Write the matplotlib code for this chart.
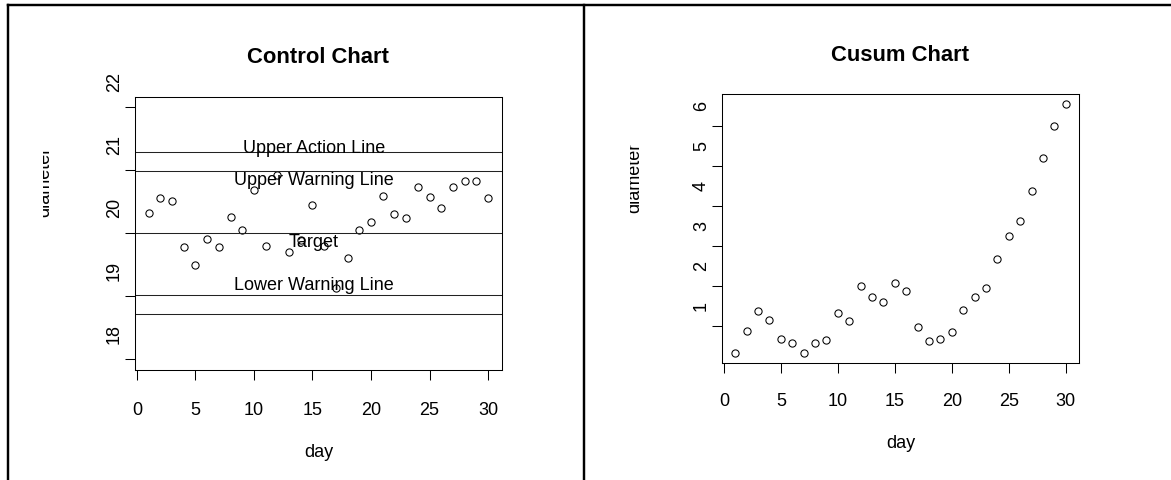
import matplotlib.pyplot as plt
from matplotlib.lines import Line2D
from matplotlib.patches import Rectangle
from matplotlib.transforms import ScaledTranslation, Bbox, TransformedBbox

plt.rcParams['font.family'] = ['Liberation Sans', 'DejaVu Sans']

# data
days = list(range(1, 31))
diameter = [20.31, 20.55, 20.51, 19.78, 19.50, 19.90, 19.78, 20.25, 20.05, 20.68,
            19.80, 20.91, 19.70, 19.89, 20.44, 19.80, 19.13, 19.61, 20.05, 20.18,
            20.59, 20.30, 20.23, 20.73, 20.57, 20.40, 20.73, 20.82, 20.82, 20.55]
cusum = [0.32, 0.86, 1.37, 1.14, 0.66, 0.55, 0.32, 0.57, 0.63, 1.32,
         1.11, 2.00, 1.71, 1.60, 2.06, 1.86, 0.97, 0.60, 0.66, 0.83,
         1.40, 1.71, 1.95, 2.67, 3.24, 3.63, 4.38, 5.20, 6.01, 6.55]
target = 20.0
warning = [20.98, 19.02]
action = [21.28, 18.72]
line_names = ["Upper Action Line", "Upper Warning Line", "Target", "Lower Warning Line"]
control_ticks = [18, 19, 20, 21, 22]
cusum_ticks = [1, 2, 3, 4, 5, 6]
day_ticks = [0, 5, 10, 15, 20, 25, 30]

W, H = 1171, 481
fig = plt.figure(figsize=(W / 100, H / 100), dpi=100)


def box(x0, y0, x1, y1):
    # pixel box (top-left origin) -> figure fraction rect
    return [x0 / W, 1 - y1 / H, (x1 - x0) / W, (y1 - y0) / H]


def style(ax, yticks, ylim, xpad, label_xy, clip_x):
    ax.set_xlim(-0.16, 31.16)
    ax.set_ylim(ylim)
    ax.set_xticks(day_ticks)
    ax.set_yticks(yticks)
    for s in ax.spines.values():
        s.set_linewidth(0.75)
    ax.tick_params(direction='out', length=7.2, width=0.75, labelsize=13)
    ax.tick_params(axis='x', pad=xpad)
    ax.tick_params(axis='y', pad=1.5, labelrotation=90)
    # y labels sit above their ticks, like in the original
    shift = ScaledTranslation(0, 0.16, fig.dpi_scale_trans)
    for lab in ax.get_yticklabels():
        lab.set_va('bottom')
        lab.set_ha('right')
        lab.set_transform(lab.get_transform() + shift)

    ax.set_xlabel('day', fontsize=13)
    ax.xaxis.set_label_coords(0.5, -0.2976)
    ax.xaxis.label.set_va('center')

    # y title is cut off on its left side in the original
    ax.set_ylabel('diameter', fontsize=13)
    ax.yaxis.set_label_coords(*label_xy)
    ylab = ax.yaxis.label
    ylab.set_va('baseline')
    ylab.set_clip_on(True)
    ylab.set_clip_box(TransformedBbox(Bbox([[clip_x / W, 0], [(clip_x + 80) / W, 1]]),
                                      fig.transFigure))
    ylab.set_clip_path(Rectangle((clip_x / W, 0), 80 / W, 1, transform=fig.transFigure))


# Control chart
ax1 = fig.add_axes(box(135, 97.5, 501.7, 371))
ax1.plot(days, diameter, 'o', mfc='none', mec='black', ms=5.2, mew=0.75)
for val in [action[0], warning[0], target, warning[1], action[1]]:
    ax1.axhline(val, color='#222222', lw=0.75)
label_y = [21.284, 20.78, 19.80, 19.11]
for name, y in zip(line_names, label_y):
    ax1.text(15.1, y, name, ha='center', va='baseline', fontsize=13)
ax1.set_title('Control Chart', fontsize=15.8, fontweight='bold', pad=25)
style(ax1, control_ticks, (17.83, 22.16), 15, (-0.2345, 0.691), 43.3)

# Cusum chart
ax2 = fig.add_axes(box(722, 95.3, 1079, 364))
ax2.plot(days, cusum, 'o', mfc='none', mec='black', ms=5.2, mew=0.75)
ax2.set_title('Cusum Chart', fontsize=15.8, fontweight='bold', pad=25)
style(ax2, cusum_ticks, (0.06, 6.80), 14, (-0.2325, 0.6922), 630)

# panel frame lines
lw = 1.75
ytop = 1 - 5.5 / H
fig.add_artist(Line2D([7.7 / W, 1], [ytop, ytop], color='black', lw=lw))
fig.add_artist(Line2D([7.7 / W, 7.7 / W], [0, ytop], color='black', lw=lw))
fig.add_artist(Line2D([584 / W, 584 / W], [0, ytop], color='black', lw=lw))

fig.savefig('out.png', dpi=100)
